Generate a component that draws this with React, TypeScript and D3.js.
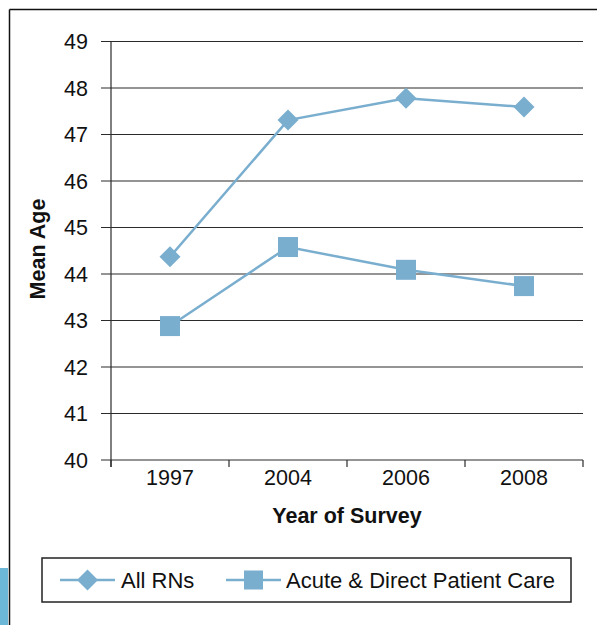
import React from "react";
import * as d3 from "d3";

const years = ["1997", "2004", "2006", "2008"];
const allRNs = [44.37, 47.31, 47.78, 47.59];
const acuteCare = [42.88, 44.58, 44.09, 43.74];
const yTicks = [40, 41, 42, 43, 44, 45, 46, 47, 48, 49];
const seriesNames = ["All RNs", "Acute & Direct Patient Care"];

const W = 597;
const H = 625;
const COLOR = "#7aaecf";
const GRID = "#2b2b2b";
const FONT = "'Liberation Sans', Arial, Helvetica, sans-serif";

export default function App() {
  const x = d3.scaleBand<string>().domain(years).range([111, 583]).padding(0);
  const y = d3.scaleLinear().domain([40, 49]).range([460, 41.5]);
  const cx = (yr: string) => (x(yr) as number) + x.bandwidth() / 2;
  const line = d3
    .line<number>()
    .x((_, i) => cx(years[i]))
    .y((v) => y(v));

  const diamond = (px: number, py: number, r: number) =>
    `M${px},${py - r}L${px + r},${py}L${px},${py + r}L${px - r},${py}Z`;

  const legendY = 580;
  const legendItems = [
    { name: seriesNames[0], x0: 60, x1: 115, shape: "diamond", tx: 121 },
    { name: seriesNames[1], x0: 226, x1: 281, shape: "square", tx: 286 },
  ];

  return (
    <svg
      width={W}
      height={H}
      style={{ position: "absolute", left: 0, top: 0, background: "#fff" }}
      fontFamily={FONT}
    >
      {/* outer frame */}
      <rect x={0} y={568} width={8} height={57} fill="#6cb6d8" />
      <line x1={9.5} y1={9.5} x2={W} y2={9.5} stroke="#111" strokeWidth={1.5} />
      <line x1={9.5} y1={9.5} x2={9.5} y2={H} stroke="#111" strokeWidth={1.5} />

      {/* gridlines + y ticks */}
      {yTicks.map((t) => (
        <g key={t}>
          <line x1={101} x2={583} y1={y(t)} y2={y(t)} stroke={GRID} strokeWidth={1.2} />
          <text
            x={88}
            y={y(t)}
            dy="0.36em"
            textAnchor="end"
            fontSize={21.5}
            fill="#111"
          >
            {t}
          </text>
        </g>
      ))}
      {/* y axis */}
      <line x1={111} x2={111} y1={y(49)} y2={467} stroke={GRID} strokeWidth={1.2} />
      {/* x ticks */}
      {[...years.map((yr) => x(yr) as number), 583].map((px, i) => (
        <line key={i} x1={px} x2={px} y1={460} y2={467} stroke={GRID} strokeWidth={1.2} />
      ))}
      {years.map((yr) => (
        <text key={yr} x={cx(yr)} y={485} textAnchor="middle" fontSize={21.5} fill="#111">
          {yr}
        </text>
      ))}

      {/* axis titles */}
      <text x={347} y={523} textAnchor="middle" fontSize={21.5} fontWeight="bold" fill="#111">
        Year of Survey
      </text>
      <text
        transform={`translate(45,249) rotate(-90)`}
        textAnchor="middle"
        fontSize={21.5}
        fontWeight="bold"
        fill="#111"
      >
        Mean Age
      </text>

      {/* series */}
      <path d={line(allRNs) || ""} fill="none" stroke={COLOR} strokeWidth={2.5} />
      <path d={line(acuteCare) || ""} fill="none" stroke={COLOR} strokeWidth={2.5} />
      {allRNs.map((v, i) => (
        <path key={"d" + i} d={diamond(cx(years[i]), y(v), 10.5)} fill={COLOR} />
      ))}
      {acuteCare.map((v, i) => (
        <rect
          key={"s" + i}
          x={cx(years[i]) - 10}
          y={y(v) - 10}
          width={20}
          height={20}
          fill={COLOR}
        />
      ))}

      {/* legend */}
      <rect x={42} y={558} width={529} height={44} fill="#fff" stroke="#222" strokeWidth={1.5} />
      {legendItems.map((it) => {
        const mx = (it.x0 + it.x1) / 2;
        return (
          <g key={it.name}>
            <line x1={it.x0} x2={it.x1} y1={legendY} y2={legendY} stroke={COLOR} strokeWidth={2.5} />
            {it.shape === "diamond" ? (
              <path d={diamond(mx, legendY, 10.5)} fill={COLOR} />
            ) : (
              <rect x={mx - 9.5} y={legendY - 9.5} width={19} height={19} fill={COLOR} />
            )}
            <text x={it.tx} y={legendY} dy="0.36em" fontSize={22} fill="#111">
              {it.name}
            </text>
          </g>
        );
      })}
    </svg>
  );
}
